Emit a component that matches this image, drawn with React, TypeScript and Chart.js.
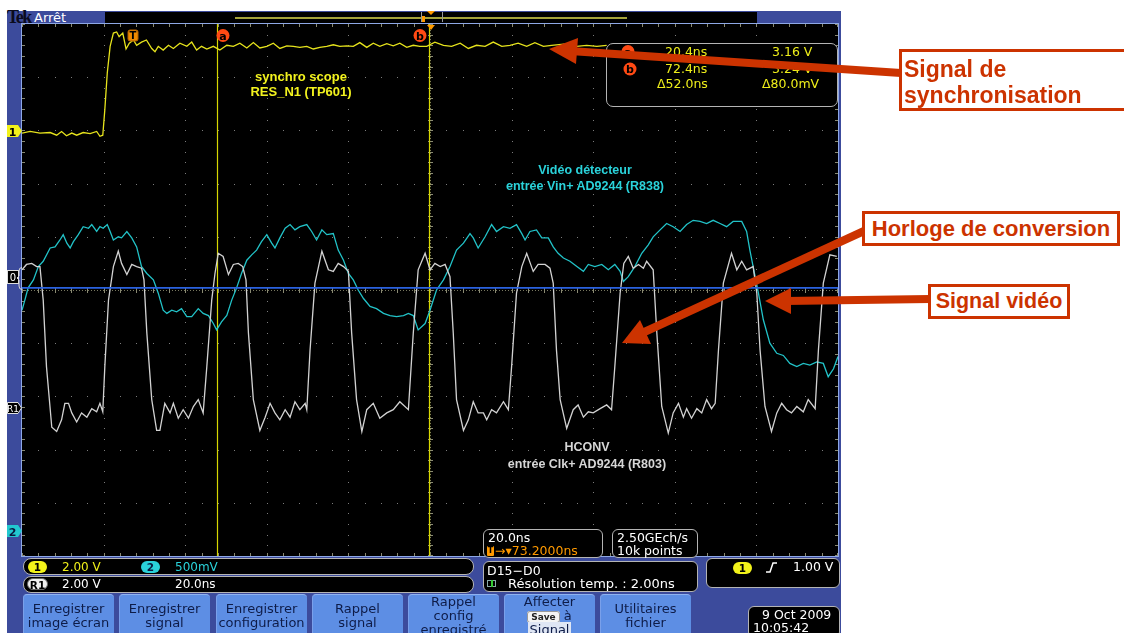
import React, { useEffect, useRef } from "react";
import { Chart, registerables } from "chart.js";

Chart.register(...registerables);

// ---------- scope settings ----------
const X_DIVS = 10;
const Y_DIVS = 10;
const NS_PER_DIV = 20;
const Y_MIN = -5;
const Y_MAX = 5;
const CURSOR_A_NS = 47.7;
const CURSOR_B_NS = 99.7;
const REF_LEVEL_DIV = 0.04;

// ---------- Ch1 : synchro scope RES_N1 (screen divisions) ----------
const syncTimeNs = [0, 2.0, 4.4, 6.9, 8.5, 9.7, 10.9, 12.2, 13.4, 15.0, 16.7, 18.3, 19.1, 19.8, 20.3, 20.9, 21.6, 22.4, 23.2, 23.8, 24.7, 25.5, 26.3, 27.3, 28.1, 29.3, 30.5, 31.8, 32.6, 33.4, 34.6, 35.9, 37.1, 38.7, 40.4, 41.6, 42.8, 44.0, 45.3, 46.9, 48.5, 50.2, 51.8, 53.4, 55.1, 56.7, 58.3, 60.0, 61.6, 63.2, 64.9, 66.5, 68.1, 69.8, 71.4, 73.0, 74.7, 76.3, 77.9, 79.6, 81.2, 82.8, 84.5, 86.1, 87.7, 89.4, 91.0, 92.6, 94.3, 95.9, 97.5, 99.2, 101.2, 103.3, 105.3, 107.4, 109.4, 111.4, 113.5, 115.5, 117.6, 119.6, 121.6, 123.7, 125.7, 127.8, 129.8, 132.8, 135.9, 138.4, 140.9, 143.3];
const syncLevel = [2.95, 2.98, 2.95, 2.96, 2.91, 2.98, 2.90, 2.95, 2.91, 2.96, 2.94, 2.98, 2.89, 2.91, 3.39, 4.08, 4.58, 4.83, 4.85, 4.76, 4.83, 4.53, 4.64, 4.70, 4.60, 4.66, 4.70, 4.54, 4.48, 4.58, 4.51, 4.60, 4.54, 4.64, 4.58, 4.66, 4.51, 4.58, 4.53, 4.58, 4.51, 4.60, 4.58, 4.64, 4.55, 4.65, 4.55, 4.58, 4.64, 4.54, 4.59, 4.58, 4.56, 4.58, 4.53, 4.56, 4.58, 4.61, 4.58, 4.59, 4.58, 4.65, 4.56, 4.64, 4.58, 4.63, 4.59, 4.64, 4.56, 4.60, 4.58, 4.58, 4.66, 4.60, 4.58, 4.64, 4.54, 4.60, 4.58, 4.66, 4.58, 4.60, 4.64, 4.58, 4.65, 4.58, 4.60, 4.62, 4.58, 4.60, 4.58, 4.60];

// ---------- Ch2 : vidéo détecteur (screen divisions) ----------
const videoTimeNs = [0, 0.7, 1.5, 2.8, 4.0, 5.2, 6.9, 8.1, 9.3, 10.1, 11.0, 11.8, 12.6, 13.8, 15.0, 16.3, 17.1, 18.3, 19.1, 19.9, 20.9, 21.6, 22.4, 23.6, 24.4, 25.7, 26.9, 28.1, 29.3, 30.6, 32.2, 33.4, 34.6, 35.5, 36.7, 37.9, 39.1, 40.4, 41.6, 43.2, 44.4, 45.7, 46.9, 47.7, 48.9, 50.2, 51.4, 52.6, 53.8, 55.1, 56.3, 57.5, 58.7, 60.0, 61.2, 62.0, 63.2, 64.5, 65.7, 66.9, 68.1, 69.8, 71.0, 72.2, 73.5, 74.7, 76.3, 77.5, 78.8, 80.0, 81.2, 82.4, 83.7, 85.3, 86.9, 88.6, 90.2, 91.8, 93.5, 94.7, 95.9, 97.1, 98.8, 100.0, 101.6, 103.3, 104.9, 106.5, 108.2, 109.8, 110.6, 111.8, 113.5, 115.1, 116.3, 118.0, 119.6, 121.2, 122.5, 123.3, 124.5, 126.1, 127.4, 129.0, 130.2, 131.4, 132.7, 134.3, 136.0, 137.6, 138.8, 140.4, 142.1, 143.7, 145.3, 146.6, 147.4, 148.6, 150.2, 151.9, 153.5, 154.7, 156.4, 158.0, 159.6, 161.3, 162.9, 164.5, 166.2, 167.8, 169.4, 171.1, 172.7, 174.3, 176.4, 177.6, 178.4, 179.2, 180.5, 181.7, 183.3, 185.0, 186.6, 188.2, 189.9, 191.5, 193.1, 194.8, 196.4, 197.6, 198.9, 200];
const videoLevel = [-0.38, -0.19, 0.04, 0.19, 0.44, 0.54, 0.79, 0.81, 0.94, 1.04, 0.88, 0.79, 0.91, 1.04, 1.19, 1.16, 1.23, 1.10, 1.19, 1.16, 1.23, 1.10, 0.94, 1.00, 0.98, 1.10, 0.98, 0.81, 0.44, 0.31, 0.19, -0.06, -0.38, -0.44, -0.38, -0.41, -0.35, -0.50, -0.50, -0.35, -0.44, -0.48, -0.63, -0.75, -0.60, -0.48, -0.19, 0.04, 0.31, 0.56, 0.66, 0.75, 0.91, 1.04, 0.88, 0.79, 0.98, 1.16, 1.23, 1.13, 1.19, 1.23, 1.10, 0.94, 1.13, 1.04, 1.06, 0.75, 0.56, 0.31, 0.19, 0.00, -0.16, -0.31, -0.35, -0.44, -0.48, -0.50, -0.48, -0.44, -0.48, -0.75, -0.63, -0.38, 0.00, 0.19, 0.44, 0.75, 0.88, 1.06, 0.98, 0.79, 1.00, 1.23, 1.10, 1.19, 1.16, 1.23, 1.06, 0.94, 1.10, 1.13, 0.98, 0.98, 0.81, 0.69, 0.60, 0.54, 0.44, 0.35, 0.48, 0.44, 0.48, 0.38, 0.48, 0.35, 0.16, 0.25, 0.44, 0.69, 0.85, 1.00, 1.13, 1.25, 1.19, 1.10, 1.23, 1.31, 1.29, 1.25, 1.31, 1.25, 1.19, 1.29, 1.29, 1.10, 0.75, 0.44, -0.06, -0.56, -1.00, -1.19, -1.23, -1.38, -1.44, -1.38, -1.41, -1.35, -1.38, -1.63, -1.48, -1.25];

// ---------- R1 : HCONV horloge (screen divisions) ----------
const clockTimeNs = [0, 1.1, 2.4, 3.6, 4.4, 5.2, 6.0, 7.3, 8.5, 9.7, 10.5, 11.4, 12.2, 13.4, 14.6, 15.9, 17.1, 18.3, 19.1, 19.8, 20.3, 21.2, 22.4, 23.6, 24.4, 25.7, 26.9, 28.1, 29.3, 29.9, 30.6, 31.8, 33.0, 33.8, 35.0, 36.3, 37.1, 38.3, 39.5, 40.8, 42.0, 43.2, 44.4, 45.3, 46.5, 47.3, 48.1, 49.3, 50.6, 51.8, 53.0, 54.1, 54.9, 55.5, 56.7, 58.3, 59.6, 60.8, 62.0, 63.2, 64.5, 65.7, 66.9, 68.1, 69.4, 69.8, 70.6, 71.8, 73.5, 75.1, 76.3, 77.5, 78.8, 80.0, 80.8, 82.0, 83.3, 84.5, 86.1, 87.7, 89.4, 91.0, 92.6, 94.7, 95.9, 97.1, 98.8, 100.0, 101.2, 102.5, 103.7, 104.9, 105.7, 106.5, 108.2, 109.4, 110.6, 111.8, 113.1, 113.9, 115.1, 116.3, 118.0, 119.2, 120.0, 121.2, 122.5, 123.7, 125.3, 126.5, 128.2, 129.4, 130.2, 131.0, 131.9, 133.5, 135.1, 136.3, 137.6, 138.8, 140.0, 141.7, 143.3, 144.5, 145.3, 146.6, 147.5, 148.6, 149.8, 151.1, 152.3, 153.1, 154.7, 155.6, 156.8, 158.4, 159.6, 160.9, 162.1, 162.9, 164.1, 165.4, 166.6, 167.8, 169.0, 169.9, 170.7, 171.9, 173.9, 175.2, 176.4, 177.6, 179.2, 180.1, 180.9, 182.1, 183.7, 185.0, 186.2, 187.4, 188.6, 189.9, 191.5, 192.7, 194.4, 195.2, 196.4, 198.0, 199.7];
const clockLevel = [0.38, 0.48, 0.50, 0.44, 0.44, -0.19, -1.44, -2.58, -2.66, -2.44, -2.13, -2.13, -2.31, -2.48, -2.31, -2.39, -2.23, -2.29, -2.13, -2.29, -1.44, -0.19, 0.44, 0.73, 0.50, 0.29, 0.48, 0.44, 0.41, 0.19, -0.81, -2.06, -2.64, -2.64, -2.13, -2.31, -2.13, -2.41, -2.25, -2.41, -2.19, -2.06, -2.31, -1.44, -0.19, 0.31, 0.69, 0.63, 0.29, 0.48, 0.50, 0.44, 0.19, -0.81, -2.06, -2.64, -2.39, -2.13, -2.31, -2.44, -2.25, -2.39, -2.10, -2.25, -2.13, -2.25, -1.13, 0.13, 0.73, 0.38, 0.35, 0.50, 0.44, 0.35, -0.81, -2.06, -2.66, -2.25, -2.13, -2.41, -2.31, -2.25, -2.10, -2.25, -0.81, 0.38, 0.69, 0.38, 0.50, 0.44, 0.48, 0.25, -0.81, -2.06, -2.64, -2.44, -2.10, -2.31, -2.31, -2.44, -2.25, -2.31, -2.10, -2.25, -1.44, -0.06, 0.44, 0.69, 0.35, 0.48, 0.48, 0.41, 0.13, -1.13, -2.06, -2.60, -2.25, -2.16, -2.39, -2.29, -2.31, -2.23, -2.16, -2.25, -1.44, -0.06, 0.50, 0.63, 0.41, 0.48, 0.41, 0.54, 0.38, -0.81, -2.19, -2.69, -2.31, -2.13, -2.39, -2.23, -2.41, -2.23, -2.31, -2.06, -2.23, -2.13, -1.13, 0.13, 0.69, 0.38, 0.54, 0.38, 0.44, -0.06, -1.13, -2.19, -2.66, -2.31, -2.13, -2.25, -2.31, -2.19, -2.29, -2.06, -2.23, -1.13, 0.13, 0.66, 0.63];

const pts = (t: number[], v: number[]) => t.map((x, i) => ({ x, y: v[i] }));

// ---------- colours ----------
const FRAME = "#3c4b9c";
const BTN = "#5d8ee4";
const YEL = "#eeee1a";
const CYAN = "#2ad2da";
const ORANGE = "#ff9a00";
const RED = "#cc3300";
const UI_FONT = '"DejaVu Sans", sans-serif';
const LAB_FONT = '"Liberation Sans", Arial, sans-serif';

const graticulePlugin = {
  id: "graticule",
  beforeDatasetsDraw(chart: any) {
    const { ctx, chartArea: a, scales } = chart;
    const xs = scales.x;
    const ys = scales.y;
    const clampX = (p: number) => Math.min(Math.round(p), a.right - 1);
    const clampY = (p: number) => Math.min(Math.round(p), a.bottom - 1);
    ctx.save();
    ctx.fillStyle = "#000";
    ctx.fillRect(a.left, a.top, a.right - a.left, a.bottom - a.top);
    // dotted major grid
    ctx.fillStyle = "#7c7c7c";
    for (let i = 1; i < X_DIVS; i++) {
      const px = clampX(xs.getPixelForValue(i * NS_PER_DIV));
      for (let k = 0; k <= Y_DIVS * 5; k++) {
        ctx.fillRect(px, clampY(ys.getPixelForValue(Y_MIN + k / 5)), 1, 1);
      }
    }
    for (let j = 1; j < Y_DIVS; j++) {
      const py = clampY(ys.getPixelForValue(Y_MIN + j));
      for (let k = 0; k <= X_DIVS * 5; k++) {
        ctx.fillRect(clampX(xs.getPixelForValue((k * NS_PER_DIV) / 5)), py, 1, 1);
      }
    }
    // centre axes with minor ticks
    const cx = clampX(xs.getPixelForValue((X_DIVS / 2) * NS_PER_DIV));
    const cy = clampY(ys.getPixelForValue(0));
    ctx.strokeStyle = "#77775e";
    ctx.lineWidth = 1;
    ctx.setLineDash([1, 2]);
    ctx.beginPath();
    ctx.moveTo(a.left, cy + 0.5);
    ctx.lineTo(a.right, cy + 0.5);
    ctx.moveTo(cx + 0.5, a.top);
    ctx.lineTo(cx + 0.5, a.bottom);
    ctx.stroke();
    ctx.setLineDash([]);
    ctx.strokeStyle = "#8a8a72";
    ctx.beginPath();
    for (let k = 0; k <= X_DIVS * 5; k++) {
      const px = clampX(xs.getPixelForValue((k * NS_PER_DIV) / 5)) + 0.5;
      ctx.moveTo(px, cy - 2);
      ctx.lineTo(px, cy + 3);
      ctx.moveTo(px, a.top);
      ctx.lineTo(px, a.top + 3);
      ctx.moveTo(px, a.bottom);
      ctx.lineTo(px, a.bottom - 3);
    }
    for (let k = 0; k <= Y_DIVS * 5; k++) {
      const py = clampY(ys.getPixelForValue(Y_MIN + k / 5)) + 0.5;
      ctx.moveTo(cx - 2, py);
      ctx.lineTo(cx + 3, py);
      ctx.moveTo(a.left, py);
      ctx.lineTo(a.left + 3, py);
      ctx.moveTo(a.right, py);
      ctx.lineTo(a.right - 3, py);
    }
    ctx.stroke();
    // cursors a & b
    ctx.strokeStyle = "#d6d600";
    ctx.lineWidth = 1.2;
    [CURSOR_A_NS, CURSOR_B_NS].forEach((t) => {
      const px = Math.round(xs.getPixelForValue(t)) + 0.5;
      ctx.beginPath();
      ctx.moveTo(px, a.top);
      ctx.lineTo(px, a.bottom);
      ctx.stroke();
    });
    ctx.restore();
  },
};

const abs = (s: React.CSSProperties): React.CSSProperties => ({ position: "absolute", whiteSpace: "nowrap", ...s });

function Txt(p: { x: number; y: number; c: string; s?: number; f?: string; b?: boolean; children: React.ReactNode; center?: boolean; w?: number }) {
  const s = p.s ?? 12;
  return (
    <div
      style={abs({
        left: p.center ? p.x - (p.w ?? 200) / 2 : p.x,
        top: p.y - s / 2,
        width: p.center ? p.w ?? 200 : undefined,
        textAlign: p.center ? "center" : "left",
        fontSize: s,
        lineHeight: `${s}px`,
        color: p.c,
        fontFamily: p.f ?? UI_FONT,
        fontWeight: p.b ? 700 : 400,
      })}
    >
      {p.children}
    </div>
  );
}

function Box(p: { x: number; y: number; w: number; h: number; children?: React.ReactNode; r?: number }) {
  return (
    <div
      style={abs({
        left: p.x,
        top: p.y,
        width: p.w,
        height: p.h,
        boxSizing: "border-box",
        border: "1px solid #b4b4b4",
        borderRadius: p.r ?? 7,
        background: "#000",
      })}
    >
      {p.children}
    </div>
  );
}

function Pill(p: { x: number; y: number; bg: string; fg: string; label: string; w?: number; border?: string }) {
  return (
    <div
      style={abs({
        left: p.x,
        top: p.y,
        width: p.w ?? 19,
        height: 12,
        borderRadius: 6,
        background: p.bg,
        color: p.fg,
        fontSize: 10.5,
        lineHeight: "12px",
        textAlign: "center",
        fontWeight: 700,
        fontFamily: UI_FONT,
        boxSizing: "border-box",
        border: p.border ?? "none",
      })}
    >
      {p.label}
    </div>
  );
}

const buttons = [
  { x: 23, lines: ["Enregistrer", "image écran"] },
  { x: 119, lines: ["Enregistrer", "signal"] },
  { x: 216, lines: ["Enregistrer", "configuration"] },
  { x: 312, lines: ["Rappel", "signal"] },
  { x: 408, lines: ["Rappel", "config", "enregistré"] },
  { x: 504, lines: ["Affecter", "SAVE", "Signal"] },
  { x: 600, lines: ["Utilitaires", "fichier"] },
];

export default function App() {
  const ref = useRef<HTMLCanvasElement>(null);
  useEffect(() => {
    if (!ref.current) return;
    const chart = new Chart(ref.current, {
      type: "line",
      data: {
        datasets: [
          { data: pts([0, X_DIVS * NS_PER_DIV], [REF_LEVEL_DIV, REF_LEVEL_DIV]), borderColor: "#2a62e0", borderWidth: 1.6 },
          { data: pts(clockTimeNs, clockLevel), borderColor: "#d2d2d2", borderWidth: 1.3 },
          { data: pts(videoTimeNs, videoLevel), borderColor: "#22c3c8", borderWidth: 1.3 },
          { data: pts(syncTimeNs, syncLevel), borderColor: "#e6e31c", borderWidth: 1.3 },
        ],
      },
      options: {
        responsive: false,
        maintainAspectRatio: false,
        animation: false,
        devicePixelRatio: 1,
        layout: { padding: 0 },
        elements: { point: { radius: 0 }, line: { tension: 0 } },
        plugins: { legend: { display: false }, tooltip: { enabled: false } },
        scales: {
          x: { type: "linear", min: 0, max: X_DIVS * NS_PER_DIV, display: false },
          y: { type: "linear", min: Y_MIN, max: Y_MAX, display: false },
        },
      },
      plugins: [graticulePlugin],
    });
    return () => chart.destroy();
  }, []);

  return (
    <div style={{ position: "fixed", left: 0, top: 0, width: 1124, height: 633, background: "#fff", overflow: "hidden", fontFamily: UI_FONT }}>
      {/* scope frame */}
      <div style={abs({ left: 7, top: 11, width: 834, height: 622, background: FRAME })} />
      {/* top bar */}
      <div style={abs({ left: 7, top: 9, fontFamily: '"Liberation Serif", serif', fontWeight: 700, fontSize: 18, lineHeight: "17px", color: "#0b0b1e", letterSpacing: -1.5 })}>Tek</div>
      <div style={abs({ left: 34, top: 11, fontSize: 13, lineHeight: "13px", color: "#fff" })}>Arrêt</div>
      <div style={abs({ left: 105, top: 12, width: 652, height: 11, background: "#000" })} />
      <div style={abs({ left: 235, top: 17, width: 392, height: 1.5, background: "#a6a43a" })} />
      <div style={abs({ left: 421, top: 12, width: 20, height: 10, borderLeft: "1px solid #999", borderRight: "1px solid #999" })} />
      <div style={abs({ left: 422, top: 16, width: 3, height: 6, background: ORANGE })} />
      <svg width={1124} height={633} style={abs({ left: 0, top: 0 })}>
        <polygon points="427,11 435,11 431,15" fill={ORANGE} />
      </svg>

      {/* graticule */}
      <div style={abs({ left: 21, top: 23, width: 816, height: 532, border: "1px solid #8ea8e6" })} />
      <canvas ref={ref} width={816} height={532} style={abs({ left: 22, top: 24, width: 816, height: 532 })} />

      {/* markers on graticule */}
      <svg width={1124} height={633} style={abs({ left: 0, top: 0 })}>
        <polygon points="427,25 435,25 431,30" fill={ORANGE} />
        <rect x={128} y={30} width={10} height={11} rx={2} fill="#f08a00" stroke="#b06000" />
        <text x={133} y={39} fontSize={10} fontWeight={700} textAnchor="middle" fontFamily={UI_FONT} fill="#000">T</text>
        <circle cx={223} cy={35.5} r={6.5} fill="#ff4a14" />
        <text x={223} y={39.5} fontSize={11} fontWeight={700} textAnchor="middle" fontFamily={UI_FONT} fill="#000">a</text>
        <circle cx={420} cy={35.5} r={6.5} fill="#ff4a14" />
        <text x={420} y={39.5} fontSize={11} fontWeight={700} textAnchor="middle" fontFamily={UI_FONT} fill="#000">b</text>
        {/* left channel markers */}
        <polygon points="7,125 18,125 22,131 18,137 7,137" fill="#f2f21a" />
        <text x={12.5} y={135.5} fontSize={11} fontWeight={700} textAnchor="middle" fontFamily={UI_FONT} fill="#000">1</text>
        <rect x={7.5} y={270.5} width={11} height={13} fill="#000" stroke="#ddd" />
        <text x={13} y={281} fontSize={10} textAnchor="middle" fontFamily={UI_FONT} fill="#fff">0</text>
        <path d="M22,267.5 Q19,267.5 19,271 L19,276 L17,278 L19,280 L19,286 Q19,289.5 22,289.5" stroke="#d8d8d8" fill="none" strokeWidth={1} />
        <polygon points="7.5,402.5 18,402.5 21.5,408 18,413.5 7.5,413.5" fill="#000" stroke="#e0e0e0" />
        <text x={13} y={412} fontSize={9} textAnchor="middle" fontFamily={UI_FONT} fill="#fff">R1</text>
        <polygon points="7,525 18,525 22,531 18,537 7,537" fill="#22c8d0" />
        <text x={12.5} y={535.5} fontSize={11} fontWeight={700} textAnchor="middle" fontFamily={UI_FONT} fill="#0a1a40">2</text>
      </svg>

      {/* trace labels */}
      <Txt x={301} y={76} c="#f2f21e" s={13} f={LAB_FONT} b center>synchro scope</Txt>
      <Txt x={301} y={91} c="#f2f21e" s={13} f={LAB_FONT} b center>RES_N1 (TP601)</Txt>
      <Txt x={585} y={170} c={CYAN} s={12.5} f={LAB_FONT} b center>Vidéo détecteur</Txt>
      <Txt x={585} y={186} c={CYAN} s={12.5} f={LAB_FONT} b center>entrée Vin+ AD9244 (R838)</Txt>
      <Txt x={587} y={447} c="#d6d6d6" s={12.5} f={LAB_FONT} b center>HCONV</Txt>
      <Txt x={587} y={464} c="#d6d6d6" s={12.5} f={LAB_FONT} b center>entrée Clk+ AD9244 (R803)</Txt>

      {/* cursor readout */}
      <Box x={606} y={43} w={232} h={64} r={7} />
      <svg width={1124} height={633} style={abs({ left: 0, top: 0 })}>
        <circle cx={628} cy={51.5} r={6.5} fill="#ff4a14" />
        <text x={628} y={55.5} fontSize={11} fontWeight={700} textAnchor="middle" fontFamily={UI_FONT} fill="#000">a</text>
        <circle cx={630} cy={69} r={6.5} fill="#ff4a14" />
        <text x={630} y={73} fontSize={11} fontWeight={700} textAnchor="middle" fontFamily={UI_FONT} fill="#000">b</text>
      </svg>
      <Txt x={665} y={52.5} c={YEL} s={12.5}>20.4ns</Txt>
      <Txt x={772} y={52.5} c={YEL} s={12.5}>3.16 V</Txt>
      <Txt x={665} y={69.5} c={YEL} s={12.5}>72.4ns</Txt>
      <Txt x={772} y={69.5} c={YEL} s={12.5}>3.24 V</Txt>
      <Txt x={657} y={84} c={YEL} s={12.5}>Δ52.0ns</Txt>
      <Txt x={762} y={84} c={YEL} s={12.5}>Δ80.0mV</Txt>

      {/* timebase / acquisition boxes */}
      <Box x={483} y={529} w={120} h={29} r={6} />
      <Txt x={488} y={538} c="#fff" s={12.5}>20.0ns</Txt>
      <div style={abs({ left: 487, top: 546, width: 7, height: 10, background: ORANGE, borderRadius: 1, fontSize: 8, lineHeight: "10px", color: "#000", textAlign: "center", fontWeight: 700 })}>T</div>
      <Txt x={495} y={551.5} c={ORANGE} s={12.5}>→▾73.2000ns</Txt>
      <Box x={612} y={529} w={86} h={29} r={6} />
      <Txt x={617} y={538} c="#fff" s={12.5}>2.50GEch/s</Txt>
      <Txt x={617} y={551.5} c="#fff" s={12.5}>10k points</Txt>

      {/* status bars */}
      <Box x={23} y={558} w={451} h={17} r={8} />
      <Pill x={28} y={561} bg="#f2f21a" fg="#000" label="1" />
      <Txt x={62} y={567} c={YEL} s={12}>2.00 V</Txt>
      <Pill x={141} y={561} bg={CYAN} fg="#0a1a40" label="2" />
      <Txt x={175} y={567} c={CYAN} s={12}>500mV</Txt>
      <Box x={23} y={576} w={451} h={17} r={8} />
      <Pill x={27} y={578} bg="#f0f0f0" fg="#000" label="R1" w={21} border="1px solid #666" />
      <Txt x={62} y={584} c="#fff" s={12}>2.00 V</Txt>
      <Txt x={175} y={584} c="#fff" s={12}>20.0ns</Txt>

      <Box x={483} y={561} w={215} h={31} r={6} />
      <Txt x={487} y={571} c="#fff" s={12.5}>D15−D0</Txt>
      <div style={abs({ left: 487, top: 580, width: 9, height: 7, border: "1px solid #8aa", boxSizing: "border-box" })} />
      <div style={abs({ left: 491, top: 580, width: 2, height: 7, background: "#3c3" })} />
      <Txt x={508} y={583.5} c="#fff" s={13}>Résolution temp. : 2.00ns</Txt>

      <Box x={706} y={558} w={134} h={30} r={6} />
      <Pill x={733} y={562} bg="#f2f21a" fg="#000" label="1" />
      <svg width={1124} height={633} style={abs({ left: 0, top: 0 })}>
        <path d="M766,572 L770,572 L773,563 L777,563" stroke="#fff" strokeWidth={1.5} fill="none" />
      </svg>
      <Txt x={793} y={567.5} c="#fff" s={12.5}>1.00 V</Txt>

      {/* menu buttons */}
      {buttons.map((b, i) => {
        const three = b.lines.length === 3;
        return (
          <div
            key={i}
            style={abs({
              left: b.x,
              top: 594,
              width: 91,
              height: 45,
              background: BTN,
              borderTopLeftRadius: 4,
              borderTopRightRadius: 4,
              borderTop: "1px solid #8fb2f0",
              borderLeft: "1px solid #7aa0ea",
              boxSizing: "border-box",
            })}
          >
            {b.lines.map((l, j) => (
              <div
                key={j}
                style={abs({
                  left: 0,
                  width: 89,
                  top: (three ? 0 : 7) + j * 14,
                  textAlign: "center",
                  fontSize: 13,
                  lineHeight: "14px",
                  color: "#0e1c48",
                })}
              >
                {l === "SAVE" ? (
                  <span>
                    <span style={{ background: "#f4f4f4", color: "#222", fontSize: 9, fontWeight: 700, borderRadius: 3, padding: "0 3px", border: "1px solid #999" }}>Save</span>
                    {" à"}
                  </span>
                ) : l === "Signal" && three ? (
                  <span style={{ background: "#dfe6f4", padding: "0 2px" }}>{l}</span>
                ) : (
                  l
                )}
              </div>
            ))}
          </div>
        );
      })}

      {/* date box */}
      <Box x={748} y={606} w={92} h={32} r={6} />
      <Txt x={762} y={615.5} c="#fff" s={12.5}>9 Oct  2009</Txt>
      <Txt x={753} y={628} c="#fff" s={12.5}>10:05:42</Txt>

      {/* annotation arrows */}
      <svg width={1124} height={633} style={abs({ left: 0, top: 0 })}>
        <line x1={901} y1={73} x2={570} y2={51} stroke={RED} strokeWidth={8} />
        <polygon points="549,49 578,38 576,64" fill={RED} />
        <line x1={864} y1={231} x2={640} y2={334} stroke={RED} strokeWidth={8} />
        <polygon points="622,343 640,320 651,344" fill={RED} />
        <line x1={930} y1={299} x2={785} y2={301} stroke={RED} strokeWidth={8} />
        <polygon points="765,301 791,288 791,314" fill={RED} />
      </svg>

      {/* annotation boxes */}
      <div style={abs({ left: 899, top: 49, width: 240, height: 62, boxSizing: "border-box", border: `3px solid ${RED}`, background: "#fff" })}>
        <div style={abs({ left: 2, top: 4, fontFamily: LAB_FONT, fontWeight: 700, fontSize: 23, lineHeight: "26px", color: RED })}>
          Signal de
          <br />
          synchronisation
        </div>
      </div>
      <div style={abs({ left: 862, top: 211, width: 258, height: 35, boxSizing: "border-box", border: `3px solid ${RED}`, background: "#fff", textAlign: "center", fontFamily: LAB_FONT, fontWeight: 700, fontSize: 22, lineHeight: "29px", color: RED })}>
        Horloge de conversion
      </div>
      <div style={abs({ left: 928, top: 284, width: 142, height: 35, boxSizing: "border-box", border: `3px solid ${RED}`, background: "#fff", textAlign: "center", fontFamily: LAB_FONT, fontWeight: 700, fontSize: 21.5, lineHeight: "29px", color: RED })}>
        Signal vidéo
      </div>
    </div>
  );
}
